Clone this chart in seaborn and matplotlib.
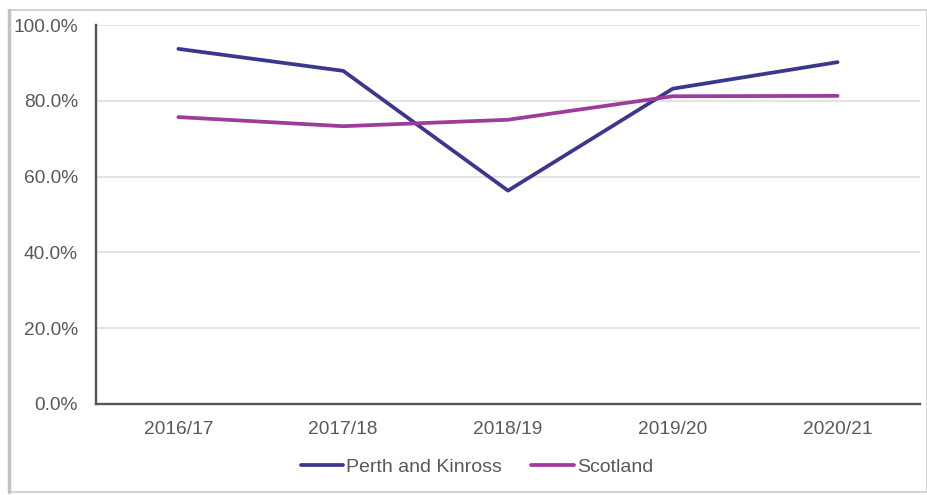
import matplotlib
matplotlib.use("Agg")
import matplotlib.pyplot as plt
from matplotlib.patches import Rectangle
from matplotlib.ticker import PercentFormatter
import seaborn as sns
import pandas as pd

years = ["2016/17", "2017/18", "2018/19", "2019/20", "2020/21"]
perth_and_kinross = [93.7, 87.9, 56.3, 83.2, 90.2]
scotland = [75.7, 73.3, 75.0, 81.2, 81.3]

df = pd.DataFrame({
    "Year": years * 2,
    "Value": perth_and_kinross + scotland,
    "Area": ["Perth and Kinross"] * len(years) + ["Scotland"] * len(years),
})

sns.set_theme(style="white")
plt.rcParams["font.family"] = ["Liberation Sans", "DejaVu Sans"]

fig = plt.figure(figsize=(9.27, 4.95), dpi=100)
ax = fig.add_axes([96 / 927, 1 - 404 / 495, (920 - 96) / 927, (404 - 25) / 495])

palette = {"Perth and Kinross": "#3b378c", "Scotland": "#9e3b9c"}
sns.lineplot(data=df, x="Year", y="Value", hue="Area", palette=palette,
             linewidth=2.7, sort=False, ax=ax, legend=True)

ax.set_ylim(0, 100)
ax.set_xlim(-0.5, len(years) - 0.5)
ax.set_yticks([0, 20, 40, 60, 80, 100])
ax.yaxis.set_major_formatter(PercentFormatter(decimals=1))
ax.grid(axis="y", color="#dedede", linewidth=1.2)
ax.set_axisbelow(True)
ax.set_xlabel("")
ax.set_ylabel("")
ax.tick_params(axis="both", length=0, labelsize=13.8, labelcolor="#595959")
ax.tick_params(axis="x", pad=12)
ax.tick_params(axis="y", pad=13)

for side in ["top", "right"]:
    ax.spines[side].set_visible(False)
for side in ["left", "bottom"]:
    ax.spines[side].set_color("#555555")
    ax.spines[side].set_linewidth(1.7)

handles, labels = ax.get_legend_handles_labels()
ax.get_legend().remove()
fig.legend(handles, labels, loc="center", bbox_to_anchor=(477 / 927, 1 - 467 / 495),
           ncol=2, frameon=False, fontsize=14, handlelength=2.2,
           handletextpad=0.15, columnspacing=1.5, labelcolor="#595959")

# outer frame of the chart area
fig.add_artist(Rectangle((9 / 927, 1 - 492 / 495), (927 - 9) / 927, (492 - 10) / 495,
                         transform=fig.transFigure, fill=False,
                         edgecolor="#d4d4d4", linewidth=1.5))
fig.add_artist(plt.Line2D([9 / 927, 9 / 927], [1 - 492 / 495, 1 - 10 / 495],
                          transform=fig.transFigure, color="#c2c2c2", linewidth=2.5))

fig.savefig("out.png", dpi=100)
